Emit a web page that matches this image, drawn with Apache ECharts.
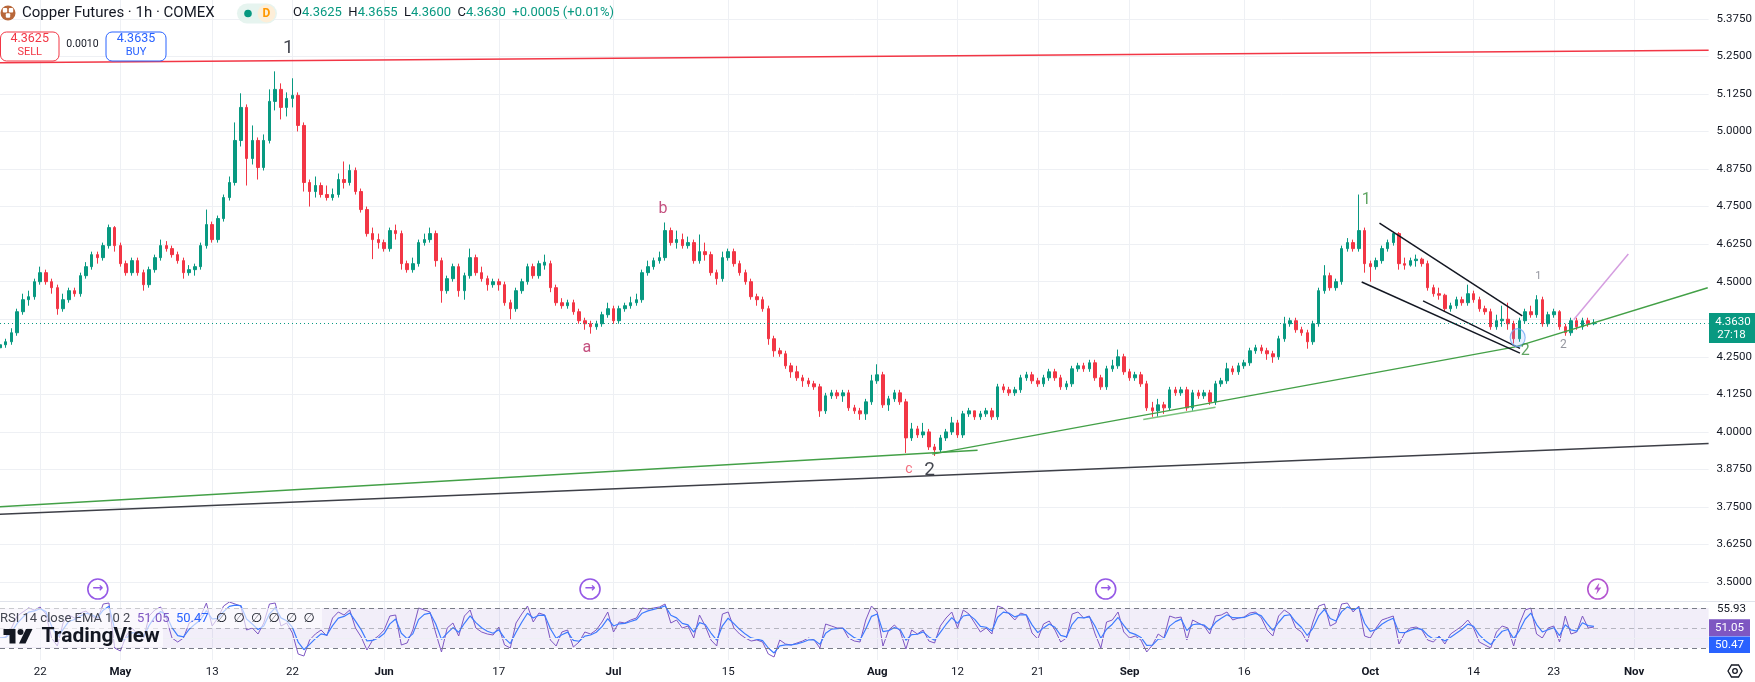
<!DOCTYPE html>
<html><head><meta charset="utf-8">
<script src="https://cdn.jsdelivr.net/npm/echarts@6/dist/echarts.min.js"></script>
<style>html,body{margin:0;padding:0;background:#fff}#c{width:1755px;height:682px}</style>
</head><body><div id="c"></div>
<script>
// ---------- DATA (half-day candles: [open, close, low, high]) ----------
const aprCandles = [[4.28,4.29,4.27,4.30],[4.29,4.30,4.28,4.31],[4.30,4.33,4.29,4.345],[4.33,4.40,4.32,4.41],[4.40,4.44,4.39,4.46],[4.44,4.45,4.42,4.47],[4.45,4.50,4.44,4.51],[4.50,4.53,4.49,4.55],[4.53,4.50,4.49,4.54],[4.50,4.48,4.46,4.51],[4.48,4.41,4.39,4.49],[4.41,4.44,4.40,4.46],[4.44,4.47,4.43,4.48],[4.47,4.46,4.45,4.48],[4.46,4.52,4.45,4.53],[4.52,4.55,4.51,4.565],[4.55,4.59,4.54,4.60],[4.59,4.58,4.56,4.60],[4.58,4.62,4.57,4.63],[4.62,4.68,4.61,4.69],[4.68,4.62,4.60,4.685]];
const mayCandles = [[4.62,4.56,4.55,4.63],[4.56,4.53,4.52,4.57],[4.53,4.57,4.52,4.58],[4.57,4.53,4.52,4.58],[4.53,4.49,4.47,4.54],[4.49,4.54,4.48,4.55],[4.54,4.58,4.53,4.59],[4.58,4.62,4.57,4.64],[4.62,4.61,4.60,4.635],[4.61,4.59,4.58,4.62],[4.59,4.57,4.56,4.60],[4.57,4.53,4.51,4.58],[4.53,4.54,4.52,4.555],[4.54,4.55,4.52,4.56],[4.55,4.62,4.54,4.63],[4.62,4.69,4.61,4.74],[4.69,4.64,4.63,4.70],[4.64,4.71,4.63,4.72],[4.71,4.78,4.70,4.79],[4.78,4.83,4.77,4.85],[4.83,4.97,4.82,5.03],[4.97,5.08,4.95,5.127],[5.08,4.91,4.82,5.09],[4.91,4.97,4.89,5.02],[4.97,4.88,4.84,4.98],[4.88,4.97,4.87,4.99],[4.97,5.10,4.96,5.14],[5.10,5.14,5.07,5.20],[5.14,5.08,5.04,5.16],[5.08,5.11,5.05,5.13],[5.11,5.12,5.08,5.177],[5.12,5.02,5.00,5.13],[5.02,4.83,4.80,5.03],[4.83,4.80,4.75,4.84],[4.80,4.82,4.78,4.85],[4.82,4.79,4.78,4.83],[4.79,4.78,4.77,4.82],[4.78,4.79,4.77,4.81],[4.79,4.84,4.78,4.86],[4.84,4.83,4.81,4.90],[4.83,4.87,4.82,4.89],[4.87,4.80,4.79,4.88],[4.80,4.74,4.73,4.81],[4.74,4.66,4.65,4.75],[4.66,4.64,4.575,4.68],[4.64,4.63,4.61,4.66]];
const junCandles = [[4.63,4.61,4.60,4.64],[4.61,4.67,4.60,4.68],[4.67,4.66,4.64,4.69],[4.66,4.56,4.54,4.67],[4.56,4.54,4.53,4.57],[4.54,4.56,4.53,4.58],[4.56,4.63,4.55,4.64],[4.63,4.64,4.62,4.66],[4.64,4.66,4.63,4.68],[4.66,4.57,4.55,4.67],[4.57,4.47,4.43,4.58],[4.47,4.51,4.46,4.52],[4.51,4.55,4.50,4.56],[4.55,4.47,4.45,4.56],[4.47,4.52,4.44,4.53],[4.52,4.58,4.51,4.61],[4.58,4.53,4.52,4.59],[4.53,4.51,4.50,4.55],[4.51,4.49,4.47,4.52],[4.49,4.50,4.48,4.51],[4.50,4.49,4.47,4.51],[4.49,4.43,4.42,4.50],[4.43,4.41,4.375,4.44],[4.41,4.47,4.40,4.48],[4.47,4.50,4.46,4.51],[4.50,4.55,4.49,4.56],[4.55,4.52,4.51,4.56],[4.52,4.56,4.51,4.57],[4.555,4.565,4.54,4.59],[4.56,4.48,4.465,4.57],[4.48,4.43,4.42,4.49],[4.43,4.42,4.41,4.445],[4.42,4.43,4.41,4.44],[4.43,4.40,4.39,4.44],[4.40,4.37,4.36,4.41],[4.37,4.36,4.34,4.38],[4.36,4.35,4.327,4.37],[4.35,4.36,4.34,4.37],[4.36,4.39,4.35,4.40],[4.39,4.41,4.38,4.43]];
const julCandles = [[4.41,4.37,4.36,4.42],[4.37,4.41,4.36,4.42],[4.41,4.42,4.40,4.43],[4.42,4.43,4.41,4.45],[4.43,4.44,4.42,4.46],[4.44,4.53,4.43,4.54],[4.53,4.55,4.52,4.57],[4.55,4.57,4.54,4.58],[4.57,4.58,4.56,4.60],[4.58,4.67,4.57,4.697],[4.67,4.63,4.62,4.68],[4.63,4.64,4.61,4.67],[4.64,4.62,4.61,4.66],[4.62,4.63,4.61,4.65],[4.63,4.57,4.56,4.64],[4.57,4.60,4.56,4.657],[4.60,4.59,4.57,4.63],[4.59,4.53,4.52,4.60],[4.53,4.51,4.49,4.54],[4.51,4.58,4.50,4.60],[4.58,4.60,4.57,4.61],[4.60,4.56,4.55,4.61],[4.56,4.53,4.52,4.57],[4.53,4.50,4.49,4.54],[4.50,4.45,4.44,4.51],[4.45,4.44,4.42,4.46],[4.44,4.41,4.40,4.45],[4.41,4.31,4.29,4.42],[4.31,4.27,4.25,4.32],[4.27,4.26,4.25,4.28],[4.26,4.22,4.21,4.27],[4.22,4.20,4.18,4.23],[4.20,4.18,4.17,4.22],[4.18,4.17,4.15,4.19],[4.17,4.16,4.15,4.18],[4.16,4.15,4.14,4.17],[4.15,4.07,4.05,4.16],[4.07,4.12,4.06,4.13],[4.12,4.13,4.11,4.14],[4.13,4.12,4.11,4.14],[4.12,4.13,4.10,4.14],[4.13,4.08,4.07,4.14],[4.08,4.07,4.06,4.09],[4.07,4.06,4.04,4.08],[4.06,4.10,4.04,4.11],[4.10,4.17,4.09,4.19]];
const augCandles = [[4.17,4.19,4.16,4.225],[4.19,4.09,4.08,4.20],[4.09,4.11,4.07,4.12],[4.11,4.13,4.10,4.14],[4.13,4.10,4.09,4.14],[4.10,3.98,3.93,4.11],[3.98,4.01,3.97,4.03],[4.01,3.99,3.98,4.02],[3.99,4.00,3.98,4.03],[4.00,3.95,3.94,4.01],[3.95,3.94,3.92,3.96],[3.94,3.98,3.93,3.99],[3.98,4.00,3.97,4.01],[4.00,4.03,3.99,4.05],[4.03,3.99,3.98,4.04],[3.99,4.06,3.98,4.07],[4.06,4.07,4.05,4.08],[4.07,4.05,4.04,4.07],[4.05,4.06,4.04,4.07],[4.06,4.07,4.05,4.08],[4.07,4.05,4.04,4.08],[4.05,4.15,4.04,4.16],[4.15,4.14,4.13,4.16],[4.14,4.13,4.12,4.15],[4.13,4.14,4.12,4.15],[4.14,4.18,4.13,4.19],[4.18,4.19,4.17,4.20],[4.19,4.17,4.16,4.20],[4.17,4.16,4.15,4.18],[4.16,4.18,4.15,4.19],[4.18,4.20,4.17,4.21],[4.20,4.18,4.17,4.21],[4.18,4.15,4.14,4.19],[4.15,4.16,4.14,4.17],[4.16,4.21,4.15,4.22],[4.21,4.22,4.20,4.23],[4.22,4.21,4.20,4.23],[4.21,4.23,4.20,4.24],[4.23,4.18,4.17,4.24],[4.18,4.15,4.14,4.19],[4.15,4.21,4.14,4.22],[4.21,4.22,4.20,4.24],[4.22,4.25,4.21,4.274],[4.25,4.20,4.19,4.26]];
const sepCandles = [[4.20,4.18,4.17,4.21],[4.18,4.19,4.17,4.20],[4.19,4.16,4.15,4.20],[4.16,4.08,4.07,4.17],[4.08,4.07,4.05,4.10],[4.07,4.09,4.05,4.11],[4.09,4.08,4.06,4.10],[4.08,4.14,4.07,4.15],[4.14,4.13,4.12,4.15],[4.13,4.14,4.12,4.15],[4.14,4.08,4.07,4.15],[4.08,4.13,4.07,4.14],[4.13,4.12,4.11,4.14],[4.12,4.13,4.11,4.14],[4.13,4.10,4.09,4.14],[4.10,4.16,4.09,4.17],[4.16,4.17,4.15,4.18],[4.17,4.21,4.16,4.23],[4.21,4.20,4.19,4.22],[4.20,4.22,4.19,4.23],[4.22,4.23,4.21,4.24],[4.23,4.27,4.22,4.28],[4.27,4.28,4.26,4.29],[4.28,4.27,4.26,4.29],[4.27,4.26,4.24,4.28],[4.26,4.25,4.23,4.27],[4.25,4.31,4.24,4.32],[4.31,4.36,4.30,4.383],[4.36,4.37,4.35,4.38],[4.37,4.34,4.33,4.38],[4.34,4.33,4.32,4.35],[4.33,4.30,4.277,4.34],[4.30,4.36,4.29,4.37],[4.36,4.47,4.35,4.48],[4.47,4.52,4.46,4.555],[4.52,4.48,4.47,4.53],[4.48,4.50,4.47,4.51],[4.50,4.61,4.49,4.62],[4.61,4.63,4.60,4.645],[4.63,4.61,4.60,4.64],[4.61,4.67,4.60,4.79],[4.67,4.56,4.53,4.68]];
const octCandles = [[4.56,4.55,4.50,4.57],[4.55,4.57,4.54,4.58],[4.57,4.61,4.56,4.62],[4.61,4.63,4.60,4.64],[4.63,4.66,4.62,4.665],[4.66,4.56,4.54,4.665],[4.56,4.555,4.54,4.58],[4.555,4.57,4.55,4.58],[4.57,4.575,4.55,4.59],[4.575,4.56,4.55,4.58],[4.56,4.48,4.47,4.57],[4.48,4.46,4.45,4.49],[4.46,4.455,4.44,4.48],[4.455,4.41,4.40,4.46],[4.41,4.42,4.40,4.43],[4.42,4.44,4.41,4.45],[4.44,4.43,4.42,4.45],[4.43,4.46,4.42,4.49],[4.46,4.44,4.43,4.47],[4.44,4.41,4.40,4.45],[4.41,4.40,4.39,4.42],[4.40,4.35,4.34,4.41],[4.35,4.37,4.34,4.39],[4.37,4.375,4.35,4.42],[4.375,4.36,4.34,4.43],[4.36,4.31,4.294,4.37],[4.31,4.37,4.30,4.38],[4.37,4.40,4.36,4.41],[4.40,4.39,4.38,4.42],[4.39,4.44,4.38,4.455],[4.44,4.36,4.35,4.45],[4.36,4.39,4.35,4.40],[4.39,4.40,4.38,4.41],[4.40,4.35,4.34,4.405],[4.35,4.33,4.32,4.36],[4.33,4.37,4.32,4.38],[4.37,4.35,4.34,4.38],[4.35,4.37,4.34,4.38],[4.37,4.36,4.35,4.38],[4.36,4.363,4.355,4.375]];

const aprRsi = [40,41,50,62,66,70,68,71,64,40,32,55,63,60,65,67,62,58,74,75,30];
const mayRsi = [27,42,50,44,38,62,68,71,60,40,36,40,55,58,62,75,52,60,72,76,74,72,48,50,44,55,74,75,52,55,45,24,22,38,44,48,42,60,66,63,68,50,41,28,38,42];
const junRsi = [48,62,63,33,35,48,70,68,66,45,26,50,55,42,62,68,50,46,44,43,51,33,30,55,64,72,56,65,63,38,32,46,48,31,36,46,44,48,56,66];
const julRsi = [46,56,55,58,60,70,69,70,71,74,55,58,50,52,40,63,52,38,32,64,66,50,44,40,37,38,36,24,21,38,34,33,35,37,40,38,30,54,52,50,50,40,37,36,58,72];
const augRsi = [66,32,48,53,47,29,48,44,48,37,35,52,60,66,50,68,64,55,46,50,44,72,70,64,58,65,63,45,39,54,57,48,36,40,64,66,60,62,44,30,56,58,66,46];
const sepRsi = [40,42,38,26,33,44,40,62,60,61,38,58,55,52,44,62,63,66,58,60,61,65,66,60,48,42,62,68,64,50,46,36,56,72,74,52,55,74,75,66,72,42];
const octRsi = [40,50,58,60,62,34,45,50,51,48,38,36,42,34,44,48,52,58,50,36,33,30,46,52,50,32,54,68,70,44,40,50,52,36,62,44,46,62,50,51];

// time-axis tick labels: [slot index, text]
const tickLabels = [[7,'22'],[21,'May'],[37,'13'],[51,'22'],[67,'Jun'],[87,'17'],[107,'Jul'],[127,'15'],[153,'Aug'],[167,'12'],[181,'21'],[197,'Sep'],[217,'16'],[239,'Oct'],[257,'14'],[271,'23'],[285,'Nov']];
const monthNames = ['May','Jun','Jul','Aug','Sep','Oct','Nov'];
const slotCount = 299;
const lastPrice = 4.3630;

// drawings: [slot, price]
const redLine = [[0,5.229],[298,5.270]];
const blackLine = [[0,3.726],[298,3.961]];
const greenLineA = [[0,3.751],[170.5,3.939]];
const greenLineB = [[162.6,3.926],[264.3,4.283]];
const greenLineC = [[264.3,4.283],[297.85,4.480]];
const greenShort = [[199.4,4.041],[212.0,4.082]];
const channelTop = [[240.6,4.695],[265.5,4.386]];
const channelBot = [[237.5,4.499],[265.1,4.262]];
const channelMid = [[248.2,4.436],[265.1,4.278]];
const pinkLine = [[274.5,4.374],[284.0,4.592]];
const circleMark = [264.7,4.314];
const waveLabels = [
  {t:'1', at:[50.28,5.2758], c:'#131722', s:19},
  {t:'a', at:[102.34,4.278], c:'#b5245f', s:16},
  {t:'b', at:[115.64,4.741], c:'#b5245f', s:16},
  {t:'c', at:[158.51,3.8737], c:'#ef4a5e', s:14},
  {t:'2', at:[162.12,3.8727], c:'#131722', s:19},
  {t:'1', at:[238.29,4.7708], c:'#388e3c', s:16},
  {t:'2', at:[266.0,4.2695], c:'#388e3c', s:16},
  {t:'1', at:[268.32,4.5185], c:'#787b86', s:11},
  {t:'2', at:[272.68,4.2894], c:'#787b86', s:12}
];
const eventSlots = [17.06, 102.91, 192.85];
const flashSlot = 278.67;
const eventPrice = 3.4769;

// ---------- BUILD ----------
const candles = [].concat(aprCandles, mayCandles, junCandles, julCandles, augCandles, sepCandles, octCandles);
const rsi = [].concat(aprRsi, mayRsi, junRsi, julRsi, augRsi, sepRsi, octRsi);
// EMA of the RSI (the indicator's smoothing line)
const rsiEma = [];
rsi.forEach((v, i) => rsiEma.push(i === 0 ? v : rsiEma[i - 1] + 0.55 * (v - rsiEma[i - 1])));
const cats = Array.from({length: slotCount}, (_, i) => String(i));
const labelMap = new Map(tickLabels);
const showTick = (idx) => labelMap.has(idx);
const fmtTick = (val) => { const t = labelMap.get(Number(val)) || ''; return monthNames.includes(t) ? '{m|' + t + '}' : t; };
const fmtPrice = (v) => { const k = v * 8; return Math.abs(k - Math.round(k)) < 1e-6 ? v.toFixed(4) : ''; };

const FONT = 'Roboto, "DejaVu Sans", sans-serif';
const UP = '#089981', DOWN = '#f23645', GRID = '#eef0f4', INK = '#131722';

const lineDefs = [
  {d: blackLine, c: '#3d3f47', w: 1.5},
  {d: greenLineA, c: '#43a047', w: 1.5},
  {d: greenLineB, c: '#43a047', w: 1.5},
  {d: greenLineC, c: '#43a047', w: 1.5},
  {d: greenShort, c: '#7cc47f', w: 1.5},
  {d: redLine, c: '#f23645', w: 1.5},
  {d: channelTop, c: INK, w: 1.5},
  {d: channelBot, c: INK, w: 1.5},
  {d: channelMid, c: INK, w: 1.5},
  {d: pinkLine, c: '#d59ee0', w: 1.5}
];

const series = [];
series.push({
  type: 'candlestick', xAxisIndex: 0, yAxisIndex: 0, data: candles, barWidth: 3, z: 3,
  itemStyle: {color: UP, color0: DOWN, borderColor: UP, borderColor0: DOWN, borderWidth: 1},
  markLine: {silent: true, symbol: ['none', 'none'], label: {show: false},
    lineStyle: {color: UP, type: [1, 3], width: 1}, data: [{yAxis: lastPrice}]}
});
lineDefs.forEach(l => series.push({
  type: 'line', xAxisIndex: 1, yAxisIndex: 0, data: l.d, showSymbol: false, symbol: 'none',
  lineStyle: {color: l.c, width: l.w}, z: 4, silent: true
}));
series.push({
  type: 'scatter', xAxisIndex: 1, yAxisIndex: 0, data: [circleMark], symbol: 'circle', symbolSize: [15, 18], z: 5,
  itemStyle: {color: 'rgba(120,170,255,0.22)', borderColor: '#6fa8f5', borderWidth: 1.2}, silent: true
});
series.push({
  type: 'scatter', xAxisIndex: 1, yAxisIndex: 0, symbolSize: 1, z: 6, silent: true,
  itemStyle: {color: 'transparent'},
  data: waveLabels.map(w => ({value: w.at, name: w.t,
    label: {show: true, position: 'inside', formatter: '{b}', color: w.c, fontSize: w.s, fontFamily: FONT}}))
});
series.push({
  type: 'scatter', xAxisIndex: 1, yAxisIndex: 0, symbol: 'circle', symbolSize: 20, z: 6, silent: true,
  itemStyle: {color: '#ffffff', borderColor: '#7b2fe0', borderWidth: 1.6},
  label: {show: true, position: 'inside', formatter: '→', color: '#7b2fe0', fontSize: 13, fontWeight: 'bold', fontFamily: FONT},
  data: eventSlots.map(s => [s, eventPrice])
});
series.push({
  type: 'scatter', xAxisIndex: 1, yAxisIndex: 0, symbol: 'circle', symbolSize: 20, z: 6, silent: true,
  itemStyle: {color: '#ffffff', borderColor: '#a12bc4', borderWidth: 1.6},
  data: [[flashSlot, eventPrice]]
});
series.push({
  type: 'scatter', xAxisIndex: 1, yAxisIndex: 0, symbol: 'path://M7,0 L0,11 L5,11 L3,20 L11,7 L6,7 L8,0 Z', symbolSize: [7, 11], z: 7, silent: true,
  itemStyle: {color: '#a12bc4'}, data: [[flashSlot, eventPrice]]
});
series.push({
  type: 'line', xAxisIndex: 2, yAxisIndex: 1, data: rsi, showSymbol: false, symbol: 'none', z: 3, silent: true,
  lineStyle: {color: '#7e57c2', width: 1},
  markArea: {silent: true, itemStyle: {color: 'rgba(126,87,194,0.1)'}, data: [[{yAxis: 30}, {yAxis: 70}]]},
  markLine: {silent: true, symbol: ['none', 'none'], label: {show: false},
    data: [
      {yAxis: 40, lineStyle: {type: 'solid', color: GRID, width: 1}},
      {yAxis: 70, lineStyle: {type: [5, 4], color: '#787b86', width: 1}},
      {yAxis: 50, lineStyle: {type: [5, 4], color: 'rgba(120,123,134,0.5)', width: 1}},
      {yAxis: 30, lineStyle: {type: [5, 4], color: '#787b86', width: 1}}
    ]}
});
series.push({
  type: 'line', xAxisIndex: 2, yAxisIndex: 1, data: rsiEma, showSymbol: false, symbol: 'none', z: 4, silent: true,
  lineStyle: {color: '#3d7bff', width: 1.2}
});

// ---------- overlay texts / UI ----------
const g = [];
const T = (x, y, text, font, fill, align, z) => g.push({type: 'text', x: x, y: y, z: z || 100,
  style: {text: text, font: font, fill: fill, align: align || 'left', verticalAlign: 'middle'}});
g.push({type: 'line', z: 90, shape: {x1: 0, y1: 601.5, x2: 1755, y2: 601.5}, style: {stroke: '#e0e3eb', lineWidth: 1}});
// title
g.push({type: 'circle', z: 100, shape: {cx: 8, cy: 13, r: 7.5}, style: {fill: '#b8673a'}});
[[5, 10.3], [11, 10.3], [8, 15.5]].forEach(p => g.push({type: 'rect', z: 101, shape: {x: p[0] - 2.2, y: p[1] - 2.2, width: 4.4, height: 4.4, r: 1}, style: {fill: '#fff'}}));
T(22, 13, 'Copper Futures · 1h · COMEX', '15px ' + FONT, INK);
g.push({type: 'rect', z: 100, shape: {x: 237, y: 3.5, width: 40, height: 20, r: 10}, style: {fill: '#e6f4ef'}});
g.push({type: 'circle', z: 101, shape: {cx: 266.5, cy: 13.5, r: 9}, style: {fill: '#fdeed8'}});
g.push({type: 'circle', z: 102, shape: {cx: 248, cy: 13.5, r: 3.8}, style: {fill: UP}});
T(266.5, 14, 'D', 'bold 12px ' + FONT, '#ff9800', 'center', 103);
g.push({type: 'text', x: 293, y: 13, z: 100, style: {
  text: '{k|O}{v|4.3625}  {k|H}{v|4.3655}  {k|L}{v|4.3600}  {k|C}{v|4.3630}  {v|+0.0005 (+0.01%)}',
  font: '13px ' + FONT, verticalAlign: 'middle', rich: {k: {fill: INK, font: '13px ' + FONT}, v: {fill: UP, font: '13px ' + FONT}}}});
// sell / buy
g.push({type: 'rect', z: 100, shape: {x: 0.5, y: 32, width: 58.5, height: 29, r: 6}, style: {fill: '#fff', stroke: DOWN, lineWidth: 1}});
T(29.7, 38.5, '4.3625', '12.5px ' + FONT, DOWN, 'center', 101);
T(29.7, 52.5, 'SELL', '11px ' + FONT, DOWN, 'center', 101);
T(82.5, 44.5, '0.0010', '10.5px ' + FONT, INK, 'center', 101);
g.push({type: 'rect', z: 100, shape: {x: 106, y: 32, width: 60, height: 29, r: 6}, style: {fill: '#fff', stroke: '#2962ff', lineWidth: 1}});
T(136, 38.5, '4.3635', '12.5px ' + FONT, '#2962ff', 'center', 101);
T(136, 52.5, 'BUY', '11px ' + FONT, '#2962ff', 'center', 101);
// last price tag
g.push({type: 'rect', z: 100, shape: {x: 1709, y: 313, width: 46, height: 30}, style: {fill: UP}});
T(1733, 321.7, '4.3630', '11.5px ' + FONT, '#fff', 'center', 101);
T(1731.5, 335, '27:18', '11.5px ' + FONT, '#fff', 'center', 101);
// rsi scale tags
T(1717, 609.3, '55.93', '11.5px ' + FONT, INK);
g.push({type: 'rect', z: 100, shape: {x: 1709, y: 619.3, width: 41, height: 17}, style: {fill: '#7e57c2'}});
T(1729.5, 628, '51.05', '11.5px ' + FONT, '#fff', 'center', 101);
g.push({type: 'rect', z: 100, shape: {x: 1709, y: 636.6, width: 41, height: 16.5}, style: {fill: '#2962ff'}});
T(1729.5, 645, '50.47', '11.5px ' + FONT, '#fff', 'center', 101);
// rsi legend
g.push({type: 'rect', z: 95, shape: {x: 0, y: 608, width: 322, height: 20}, style: {fill: 'rgba(255,255,255,0.6)'}});
g.push({type: 'rect', z: 95, shape: {x: 0, y: 628, width: 163, height: 19}, style: {fill: 'rgba(255,255,255,0.6)'}});
T(0, 618.5, 'RSI 14 close EMA 10 2', '13px ' + FONT, '#434651');
T(137, 618.5, '51.05', '13px ' + FONT, '#7e57c2');
T(176, 618.5, '50.47', '13px ' + FONT, '#2962ff');
[216, 233.5, 251, 268.5, 286, 303.5].forEach(x => T(x, 618.5, '∅', '13px ' + FONT, INK));
// TradingView logo
g.push({type: 'polygon', z: 100, shape: {points: [[3.5, 629], [15.5, 629], [15.5, 643.5], [9.5, 643.5], [9.5, 635], [3.5, 635]]}, style: {fill: INK}});
g.push({type: 'circle', z: 100, shape: {cx: 20.5, cy: 632, r: 3}, style: {fill: INK}});
g.push({type: 'polygon', z: 100, shape: {points: [[26, 629], [32.5, 629], [25.5, 643.5], [19, 643.5]]}, style: {fill: INK}});
T(41.5, 636.5, 'TradingView', 'bold 21px ' + FONT, INK);
// settings icon
g.push({type: 'polygon', z: 100, shape: {points: [[1728, 671], [1731.5, 665], [1738.5, 665], [1742, 671], [1738.5, 677], [1731.5, 677]]}, style: {fill: 'none', stroke: INK, lineWidth: 1.3}});
g.push({type: 'circle', z: 100, shape: {cx: 1735, cy: 671, r: 2.3}, style: {fill: 'none', stroke: INK, lineWidth: 1.3}});

const option = {
  animation: false,
  backgroundColor: '#ffffff',
  textStyle: {fontFamily: FONT},
  grid: [
    {left: -1.157, right: 46.4, top: -3.9, height: 604.8},
    {left: -1.157, right: 46.4, top: 601, height: 59}
  ],
  xAxis: [
    {type: 'category', gridIndex: 0, data: cats, boundaryGap: false, axisLine: {show: false}, axisTick: {show: false},
      axisLabel: {show: false}, splitLine: {show: true, interval: showTick, lineStyle: {color: GRID}}},
    {type: 'value', gridIndex: 0, min: 0, max: slotCount - 1, show: false, splitLine: {show: false}},
    {type: 'category', gridIndex: 1, data: cats, boundaryGap: false, axisLine: {show: false}, axisTick: {show: false},
      axisLabel: {show: true, interval: showTick, formatter: fmtTick, margin: 6, color: INK, fontSize: 11.5, fontFamily: FONT,
        rich: {m: {fontWeight: 'bold', fontSize: 11.5, color: INK, fontFamily: FONT}}},
      splitLine: {show: true, interval: showTick, lineStyle: {color: GRID}}}
  ],
  yAxis: [
    {type: 'value', gridIndex: 0, position: 'right', min: 3.4375, max: 5.4375, interval: 0.0625,
      axisLine: {show: false}, axisTick: {show: false},
      axisLabel: {formatter: fmtPrice, color: INK, fontSize: 11.5, margin: 8, fontFamily: FONT},
      splitLine: {show: true, lineStyle: {color: ['transparent', GRID]}}},
    {type: 'value', gridIndex: 1, position: 'right', min: 18, max: 77, show: false, splitLine: {show: false}}
  ],
  series: series,
  graphic: g
};
const chart = echarts.init(document.getElementById('c'));
chart.setOption(option);
</script>
</body></html>
